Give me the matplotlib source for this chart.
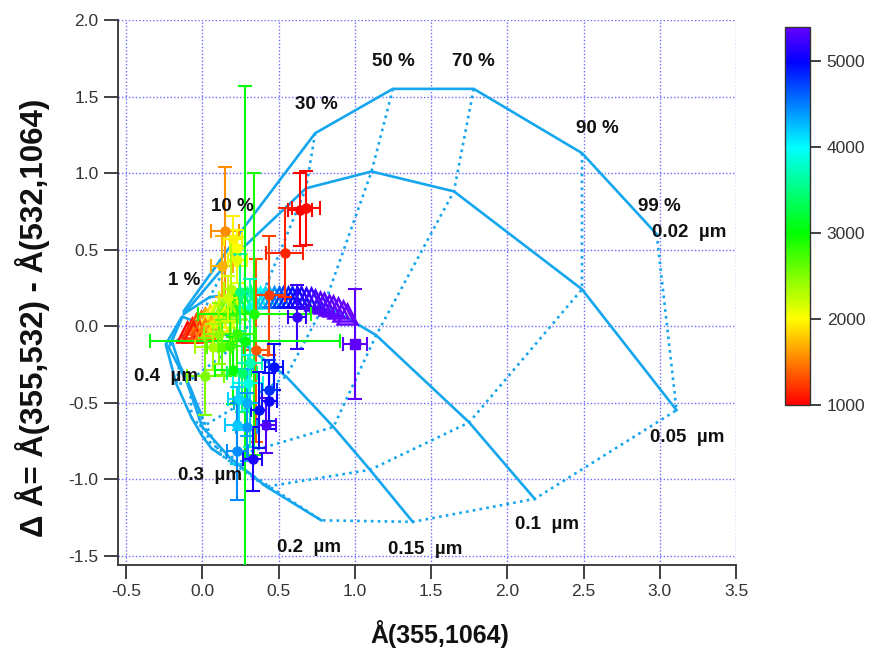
import numpy as np
import matplotlib
matplotlib.use("Agg")
from matplotlib import pyplot as plt
from matplotlib.colors import ListedColormap, Normalize, hsv_to_rgb

plt.rcParams['font.family'] = ['Liberation Sans', 'DejaVu Sans']
plt.rcParams['axes.unicode_minus'] = False

# fine mode fraction (%) and fine mode radius (um) of the reference grid
fractions = [1, 10, 30, 50, 70, 90, 99]
radii = [0.02, 0.05, 0.1, 0.15, 0.2, 0.3, 0.4]
# grid nodes: one row per radius, one column per fraction
grid_x = [
    [-0.12, 0.24, 0.74, 1.25, 1.78, 2.49, 2.98],
    [-0.12, 0.17, 0.68, 1.11, 1.65, 2.49, 3.11],
    [-0.12, 0.05, 0.40, 0.80, 1.14, 1.75, 2.18],
    [-0.13, -0.02, 0.25, 0.55, 0.86, 1.10, 1.38],
    [-0.13, -0.22, -0.10, 0.00, 0.18, 0.42, 0.78],
    [-0.14, -0.24, -0.17, -0.07, 0.00, 0.06, 0.12],
    [-0.14, -0.20, -0.15, -0.08, -0.04, -0.01, 0.00],
]
grid_y = [
    [0.10, 0.60, 1.26, 1.55, 1.55, 1.13, 0.60],
    [0.08, 0.42, 0.90, 1.01, 0.88, 0.24, -0.55],
    [0.08, 0.19, 0.22, 0.14, -0.06, -0.63, -1.13],
    [0.06, 0.02, -0.10, -0.33, -0.66, -0.94, -1.28],
    [0.06, -0.14, -0.37, -0.66, -0.86, -1.05, -1.27],
    [0.05, -0.12, -0.38, -0.60, -0.72, -0.80, -0.84],
    [0.05, -0.10, -0.25, -0.40, -0.50, -0.57, -0.60],
]
frac_labels = ['1 %', '10 %', '30 %', '50 %', '70 %', '90 %', '99 %']
frac_label_x = [-0.12, 0.20, 0.75, 1.25, 1.78, 2.59, 3.00]
frac_label_y = [0.30, 0.78, 1.45, 1.73, 1.73, 1.29, 0.78]
rad_labels = ['0.02  µm', '0.05  µm', '0.1  µm', '0.15  µm', '0.2  µm', '0.3  µm', '0.4  µm']
rad_label_x = [3.19, 3.18, 2.26, 1.46, 0.70, 0.05, -0.24]
rad_label_y = [0.61, -0.73, -1.30, -1.46, -1.45, -0.98, -0.33]

# measured points: Angstrom(355,1064), delta Angstrom, errors, altitude (m)
pt_x = [0.64, 0.68, 0.54, 0.15, 0.20, 0.23, 0.13, 0.23, 0.19, 0.44,
        0.35, 0.34, 0.62, 1.00, 0.28, 0.07, 0.13, 0.18, 0.02, 0.20,
        0.26, 0.31, 0.30, 0.47, 0.44, 0.44, 0.24, 0.29, 0.37, 0.42,
        0.23, 0.29, 0.23, 0.33, 0.11, 0.23, 0.17, 0.25]
pt_y = [0.76, 0.77, 0.48, 0.62, 0.57, 0.51, 0.39, 0.43, 0.24, 0.20,
        -0.16, 0.08, 0.06, -0.12, -0.10, -0.14, -0.14, -0.13, -0.33, -0.29,
        -0.31, -0.24, -0.37, -0.27, -0.42, -0.49, -0.48, -0.50, -0.55, -0.65,
        -0.65, -0.66, -0.82, -0.87, -0.05, -0.05, 0.18, 0.22]
pt_xerr = [0.08, 0.09, 0.12, 0.09, 0.06, 0.05, 0.07, 0.06, 0.05, 0.10,
           0.08, 0.37, 0.06, 0.08, 0.62, 0.12, 0.10, 0.08, 0.12, 0.12,
           0.10, 0.08, 0.10, 0.06, 0.05, 0.05, 0.07, 0.08, 0.05, 0.06,
           0.08, 0.07, 0.07, 0.06, 0.10, 0.12, 0.06, 0.07]
pt_yerr = [0.24, 0.24, 0.29, 0.42, 0.15, 0.12, 0.20, 0.15, 0.35, 0.39,
           0.60, 0.92, 0.21, 0.36, 1.67, 0.15, 0.18, 0.20, 0.25, 0.22,
           0.25, 0.55, 0.18, 0.15, 0.20, 0.18, 0.20, 0.22, 0.25, 0.18,
           0.25, 0.22, 0.32, 0.21, 0.20, 0.25, 0.15, 0.25]
pt_alt = [1000, 1050, 1150, 1550, 1950, 2000, 1700, 2100, 2300, 1250,
          1350, 2900, 5200, 5350, 3050, 2350, 2650, 2800, 2500, 3000,
          3400, 3700, 3900, 4950, 4800, 5050, 4150, 4300, 4950, 5300,
          4200, 4400, 4450, 5100, 2450, 2800, 2200, 3500]
pt_marker = ['o'] * 13 + ['s'] + ['o'] * 24

# dense model track
band_x = [-0.10, -0.07, -0.04, -0.01, 0.02, 0.05, 0.08, 0.11, 0.14, 0.17,
          0.20, 0.23, 0.26, 0.29, 0.32, 0.35, 0.38, 0.41, 0.44, 0.47,
          0.50, 0.53, 0.56, 0.59, 0.62, 0.65, 0.68, 0.71, 0.74, 0.77,
          0.80, 0.83, 0.86, 0.89, 0.92, 0.95,
          -0.06, -0.02, 0.02, 0.06, 0.10, 0.14, 0.18, 0.22]
band_y = [-0.04, -0.01, 0.01, 0.03, 0.05, 0.07, 0.09, 0.11, 0.13, 0.14,
          0.15, 0.16, 0.17, 0.18, 0.18, 0.18, 0.19, 0.19, 0.19, 0.19,
          0.19, 0.19, 0.19, 0.19, 0.19, 0.19, 0.18, 0.18, 0.17, 0.16,
          0.15, 0.14, 0.13, 0.12, 0.10, 0.08,
          -0.04, -0.03, -0.02, 0.00, 0.03, 0.06, 0.09, 0.11]
band_alt = [1000, 1150, 1300, 1450, 1650, 1850, 2050, 2250, 2450, 2650,
            2850, 3050, 3300, 3500, 3700, 3850, 4000, 4150, 4300, 4450,
            4600, 4750, 4850, 4950, 5050, 5100, 5150, 5200, 5250, 5300,
            5320, 5340, 5360, 5380, 5390, 5400,
            1100, 1300, 1500, 1700, 1900, 2100, 2300, 2500]

# rainbow scale: red -> yellow -> green -> cyan -> blue -> violet
h = np.linspace(0, 0.733, 256)
rainbow = ListedColormap(hsv_to_rgb(np.stack([h, np.ones_like(h), np.ones_like(h)], axis=1)))
norm = Normalize(vmin=1000, vmax=5400)

line_c = '#14a6ee'
grid_c = '#6b6bff'
text_c = '#333333'

fig = plt.figure(figsize=(8.84, 6.58), dpi=100)
ax = fig.add_axes([118 / 884, 1 - 565 / 658, 618 / 884, 545 / 658])
ax.set_xlim(-0.553, 3.5)
ax.set_ylim(-1.562, 2.0)
ax.set_xticks(np.arange(-0.5, 3.51, 0.5))
ax.set_yticks(np.arange(-1.5, 2.01, 0.5))
ax.xaxis.set_major_formatter(matplotlib.ticker.FormatStrFormatter('%.1f'))
ax.yaxis.set_major_formatter(matplotlib.ticker.FormatStrFormatter('%.1f'))
ax.grid(True, color=grid_c, linestyle=(0, (1, 1.5)), linewidth=1.0)
ax.set_axisbelow(True)
for s in ['top', 'right']:
    ax.spines[s].set_visible(False)
for s in ['left', 'bottom']:
    ax.spines[s].set_color(text_c)
    ax.spines[s].set_linewidth(1.3)
ax.tick_params(direction='out', length=10, width=1.3, color=text_c,
               labelsize=12.5, labelcolor=text_c, pad=4)

gx = np.array(grid_x)
gy = np.array(grid_y)
# constant radius: solid, constant fraction: dotted
for i in range(len(radii)):
    ax.plot(gx[i], gy[i], color=line_c, lw=1.9, zorder=2)
for j in range(len(fractions)):
    ax.plot(gx[:, j], gy[:, j], color=line_c, lw=1.9,
            linestyle=(0, (1.0, 1.6)), zorder=2)

for t, x, y in zip(frac_labels, frac_label_x, frac_label_y):
    ax.text(x, y, t, ha='center', va='center', fontsize=13.5,
            fontweight='bold', color='#111111', zorder=6)
for t, x, y in zip(rad_labels, rad_label_x, rad_label_y):
    ax.text(x, y, t, ha='center', va='center', fontsize=13.5,
            fontweight='bold', color='#111111', zorder=6)

for x, y, a in zip(band_x, band_y, band_alt):
    ax.plot(x, y, marker='^', markersize=14, mfc='none',
            mec=rainbow(norm(a)), mew=1.8, zorder=3)

for x, y, xe, ye, a, m in zip(pt_x, pt_y, pt_xerr, pt_yerr, pt_alt, pt_marker):
    c = rainbow(norm(a))
    ax.errorbar(x, y, xerr=xe, yerr=ye, fmt=m, color=c, ms=6.5,
                elinewidth=1.5, capsize=5, capthick=1.5, zorder=4)

fig.text(440 / 884, 1 - 634 / 658, 'Å(355,1064)', ha='center', va='center',
         fontsize=18, fontweight='bold', color='#111111')
fig.text(33 / 884, 1 - 318 / 658, 'Δ Å= Å(355,532) - Å(532,1064)',
         ha='center', va='center', rotation=90, fontsize=22.5,
         fontweight='bold', color='#111111')

cax = fig.add_axes([785 / 884, 1 - 405 / 658, 25 / 884, 378 / 658])
sm = matplotlib.cm.ScalarMappable(norm=norm, cmap=rainbow)
cb = fig.colorbar(sm, cax=cax, ticks=[1000, 2000, 3000, 4000, 5000])
cb.outline.set_edgecolor(text_c)
cb.outline.set_linewidth(1.0)
cax.tick_params(direction='out', length=8, width=1.3, color=text_c,
                labelsize=12.5, labelcolor=text_c, pad=4)

fig.savefig('out.png', dpi=100)
